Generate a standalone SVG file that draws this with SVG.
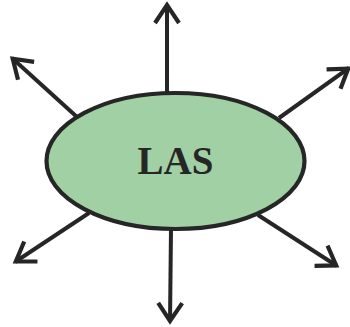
<svg xmlns="http://www.w3.org/2000/svg" width="350" height="327" viewBox="0 0 350 327">
<style>
.c{stroke:#262626;stroke-width:4;fill:none}
.n{fill:#a2d0a5;stroke:#262626;stroke-width:4.2}
.t{font-family:"Liberation Serif",serif;font-weight:bold;font-size:39px;fill:#262626}
</style>
<defs>
<marker id="ah" markerUnits="userSpaceOnUse" viewBox="-24 -15 28 30" refX="0" refY="0" markerWidth="28" markerHeight="30" orient="auto" overflow="visible">
<path d="M-19,-12 L-1,0 L-19,12" fill="none" stroke="#262626" stroke-width="4.2" stroke-linejoin="miter"/>
</marker>
</defs>
<g id="connectors">
<line class="c" x1="167" y1="94" x2="167" y2="4" marker-end="url(#ah)"/>
<line class="c" x1="77" y1="117" x2="12" y2="58" marker-end="url(#ah)"/>
<line class="c" x1="279" y1="118" x2="349" y2="68" marker-end="url(#ah)"/>
<line class="c" x1="89" y1="213" x2="15" y2="262" marker-end="url(#ah)"/>
<line class="c" x1="171" y1="229" x2="170" y2="322" marker-end="url(#ah)"/>
<line class="c" x1="258" y1="215" x2="337" y2="266" marker-end="url(#ah)"/>
</g>
<g id="las">
<ellipse class="n" cx="175.5" cy="161" rx="129" ry="68"/>
<text class="t" x="175.5" y="174" text-anchor="middle">LAS</text>
</g>
</svg>
